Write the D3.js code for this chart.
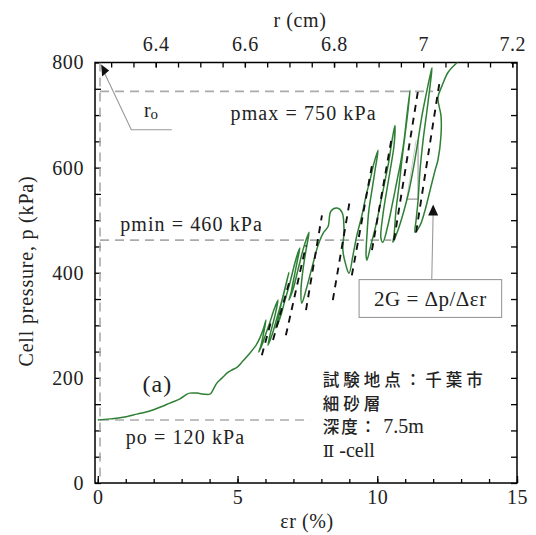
<!DOCTYPE html>
<html><head><meta charset="utf-8">
<script src="https://cdn.jsdelivr.net/npm/d3@7"></script>
<style>body{margin:0;background:#fff}svg{display:block}</style>
</head><body><svg id="c" width="536" height="535"></svg>
<script>
// ---- data ----
const strainPct = [0,0.43,0.9,1.4,1.86,2.22,2.58,2.94,3.19,3.29,3.55,3.8,4.01,4.08,4.15,4.26,4.37,4.51,4.62,4.8,4.98,5.19,5.44,5.66,5.8,
 5.91,6.02,5.94,5.84,5.76,5.87,6.02,6.16,6.30,6.45,
 6.34,6.16,6.09,6.23,6.41,6.59,6.70,6.84,
 6.73,6.55,6.45,6.37,6.52,6.70,6.87,7.02,7.13,7.23,
 7.13,6.98,6.91,6.84,6.98,7.16,7.34,7.45,7.56,
 7.45,7.34,7.27,7.30,7.45,7.66,7.88,8.06,8.24,
 8.34,8.56,8.74,8.81,8.77,8.88,8.99,
 9.13,9.27,9.45,9.60,9.74,9.88,10.03,
 9.92,9.81,9.70,9.63,9.60,9.63,9.77,9.95,10.10,10.28,10.42,10.53,10.63,
 10.60,10.49,10.31,10.20,10.13,10.20,10.38,10.53,10.71,10.85,10.96,11.06,11.17,
 11.10,10.99,10.88,10.78,10.67,10.60,10.56,10.74,10.96,11.14,11.31,11.46,11.60,11.74,11.89,11.96,
 11.89,11.78,11.64,11.53,11.46,11.39,11.35,11.53,11.71,11.89,12.07,12.17,12.28,12.28,12.17,12.32,12.53,12.82,12.96];
const pressureKPa = [120,122,125,131,137,144,152,160,169,171,171,169,169,173,180,190,196,203,209,215,220,232,247,262,276,
 291,310,287,262,249,262,285,306,329,348,
 319,281,262,281,314,348,371,401,
 376,338,310,295,314,348,380,412,433,447,
 420,380,361,348,367,405,443,462,477,
 443,405,367,342,367,409,452,475,488,
 517,523,515,481,443,414,399,
 433,471,509,547,576,608,633,
 595,557,519,471,433,424,452,490,528,576,614,652,680,
 642,604,547,509,466,458,490,528,576,614,652,699,747,
 709,661,614,566,519,471,458,481,519,557,604,652,699,737,775,790,
 756,709,652,595,538,500,477,490,519,557,595,614,661,699,733,756,781,798,804];
// dashed 2G slope lines: [strain1, p1] -> [strain2, p2]
const slopeStrain1 = [5.87,6.27,6.73,7.45,8.41,9.09,9.81,10.60,11.39];
const slopeP1      = [243,272,281,329,348,395,443,462,477];
const slopeStrain2 = [6.23,6.87,7.45,8.02,9.02,9.81,10.53,11.46,12.25];
const slopeP2      = [314,386,452,509,538,604,661,747,770];
// reference pressures
const refP = [745,462,120];
const refEndStrain = [12.0,10.5,7.6];
const refLabels = ["pmax = 750 kPa","pmin = 460 kPa","po = 120 kPa"];
const r0Strain = 0.08;
const xTicks = [0,5,10,15];
const yTicks = [0,200,400,600,800];
const rTicks = [6.4,6.6,6.8,7,7.2];
const r0cm = 6.27;
const infoCjk   = ["試験地点：千葉市","細砂層","深度：",""];
const infoLatin = ["","",""," 7.5m"," -cell"];

// ---- drawing ----
const svg = d3.select("#c");
const L=95, R=517, T=62.5, B=483;
const x = d3.scaleLinear().domain([-0.1,15]).range([L,R]);
const y = d3.scaleLinear().domain([0,800]).range([B,T]);
const xr = d3.scaleLinear().domain([r0cm*(1-0.001), r0cm*1.15]).range([L,R]);
const serif = "'Liberation Serif','Times New Roman',serif";
const cjk = "'Noto Sans CJK JP','Noto Sans CJK SC',sans-serif";
const ink = "#222";

svg.append("clipPath").attr("id","pc").append("rect")
  .attr("x",L).attr("y",T).attr("width",R-L).attr("height",B-T);

function styleAxis(g){ g.select(".domain").remove();
  g.selectAll("line").attr("stroke","#000").attr("stroke-width",1.3);
  g.selectAll("text").attr("font-family",serif).attr("font-size",20).attr("fill",ink).attr("letter-spacing",0.6); }

// bottom
svg.append("g").attr("transform",`translate(0,${B})`)
  .call(d3.axisBottom(x).tickValues(d3.range(0,16,1)).tickSize(-4).tickFormat("")).call(styleAxis);
svg.append("g").attr("transform",`translate(0,${B})`)
  .call(d3.axisBottom(x).tickValues(xTicks).tickSize(-7).tickPadding(7).tickFormat(d3.format("d"))).call(styleAxis);
// left
svg.append("g").attr("transform",`translate(${L},0)`)
  .call(d3.axisLeft(y).tickValues(d3.range(0,801,50)).tickSize(-6).tickPadding(11).tickFormat(d=>yTicks.includes(d)?d:"")).call(styleAxis);
// right
svg.append("g").attr("transform",`translate(${R},0)`)
  .call(d3.axisRight(y).tickValues(d3.range(0,801,50)).tickSize(-6).tickFormat("")).call(styleAxis);
// top (r in cm)
svg.append("g").attr("transform",`translate(0,${T})`)
  .call(d3.axisTop(xr).tickValues(d3.range(6.3,7.21,0.05)).tickSize(-5).tickFormat("")).call(styleAxis);
svg.append("g").attr("transform",`translate(0,${T})`)
  .call(d3.axisTop(xr).tickValues(rTicks).tickSize(-5).tickPadding(12).tickFormat(d=>d===7?"7":d3.format(".1f")(d))).call(styleAxis);

// frame
svg.append("rect").attr("x",L).attr("y",T).attr("width",R-L).attr("height",B-T)
  .attr("fill","none").attr("stroke","#000").attr("stroke-width",1.5);

const plot = svg.append("g").attr("clip-path","url(#pc)");
// reference dashed lines
plot.append("line").attr("x1",x(r0Strain)).attr("x2",x(r0Strain)).attr("y1",y(800)).attr("y2",y(0))
  .attr("stroke","#aaa").attr("stroke-width",1.6).attr("stroke-dasharray","9,6");
refP.forEach((p,i)=>{
  plot.append("line").attr("x1",x(r0Strain)).attr("x2",x(refEndStrain[i])).attr("y1",y(p)).attr("y2",y(p))
   .attr("stroke","#aaa").attr("stroke-width",1.6).attr("stroke-dasharray","9,6");
});
// slope triangle (2G)
const tri = [[11.46,652],[11.46,540],[11.05,540]];
plot.append("path").attr("d",d3.line().x(d=>x(d[0])).y(d=>y(d[1]))(tri))
  .attr("fill","none").attr("stroke","#999").attr("stroke-width",1.1);
plot.append("line").attr("x1",x(11.39)).attr("y1",y(652)).attr("x2",x(11.05)).attr("y2",y(540))
  .attr("stroke","#ccc").attr("stroke-width",1);

// green curve
const pts = strainPct.map((e,i)=>[e,pressureKPa[i]]);
plot.append("path").attr("d",d3.line().curve(d3.curveCatmullRom.alpha(0.5)).x(d=>x(d[0])).y(d=>y(d[1]))(pts))
  .attr("fill","none").attr("stroke","#2f7f35").attr("stroke-width",1.5).attr("stroke-linejoin","round");

// dashed slope lines
slopeStrain1.forEach((e,i)=>{
  plot.append("line").attr("x1",x(e)).attr("y1",y(slopeP1[i])).attr("x2",x(slopeStrain2[i])).attr("y2",y(slopeP2[i]))
   .attr("stroke","#111").attr("stroke-width",1.9).attr("stroke-dasharray","7,6");
});

// r0 annotation
const r0Pts = [[2.65,672],[1.2,672],[0.15,790]];
svg.append("path").attr("d",d3.line().x(d=>x(d[0])).y(d=>y(d[1]))(r0Pts))
  .attr("fill","none").attr("stroke","#999").attr("stroke-width",1.1);
{ const tx=x(0.12), ty=y(796);
  svg.append("path").attr("d",`M${tx},${ty} l1,12 l7,-6 z`).attr("fill","#111"); }
const r0t = svg.append("text").attr("x",x(1.65)).attr("y",y(697)).attr("font-family",serif).attr("font-size",20).attr("fill",ink);
r0t.append("tspan").text("r");
r0t.append("tspan").attr("dy",2).attr("font-size",15).text("o");

// labels for reference lines
const labPos = [[4.75,690],[0.8,480],[1.0,75]];
refLabels.forEach((t,i)=>{
  svg.append("text").attr("x",x(labPos[i][0])).attr("y",y(labPos[i][1])).attr("font-family",serif)
   .attr("font-size",20).attr("letter-spacing",1.1).attr("fill",ink).text(t);
});
svg.append("text").attr("x",x(1.6)).attr("y",y(174)).attr("font-family",serif).attr("font-size",24).attr("letter-spacing",1).attr("fill",ink).text("(a)");

// 2G box and arrow
const bx0=x(9.35), bx1=x(14.45), by0=y(387), by1=y(315);
svg.append("rect").attr("x",bx0).attr("y",by0).attr("width",bx1-bx0).attr("height",by1-by0)
  .attr("fill","#fff").attr("stroke","#999").attr("stroke-width",1.1);
svg.append("text").attr("x",(bx0+bx1)/2).attr("y",by1-11).attr("text-anchor","middle").attr("font-family",serif)
  .attr("font-size",21).attr("letter-spacing",0.5).attr("fill",ink).text("2G = Δp/Δεr");
const ax = x(12.0);
svg.append("line").attr("x1",x(11.95)).attr("y1",by0).attr("x2",ax).attr("y2",y(515)).attr("stroke","#999").attr("stroke-width",1.1);
svg.append("path").attr("d",`M${ax},${y(530)} l-5,11 l10,0 z`).attr("fill","#111");

// site info
const infoTop = 184, infoStep = 44.6;
for(let i=0;i<4;i++){
  const t = svg.append("text").attr("x",x(8.05)).attr("y",y(infoTop-i*infoStep)).attr("fill",ink);
  if(i<3) t.append("tspan").attr("font-family",cjk).attr("font-size",16.5).attr("font-weight",500)
           .attr("letter-spacing",i===2?2:4).text(infoCjk[i]);
  if(i===2) t.append("tspan").attr("font-family",serif).attr("font-size",20).text(infoLatin[3]);
  if(i===3){ t.append("tspan").attr("font-family","'DejaVu Serif',serif").attr("font-size",17).text("Ⅱ");
             t.append("tspan").attr("font-family",serif).attr("font-size",20).text(infoLatin[4]); }
}

// axis titles
svg.append("text").attr("x",(L+R)/2+1).attr("y",528).attr("text-anchor","middle").attr("font-family",serif)
  .attr("font-size",20).attr("letter-spacing",0.6).attr("fill",ink).text("εr (%)");
svg.append("text").attr("x",300).attr("y",27).attr("text-anchor","middle").attr("font-family",serif)
  .attr("font-size",20).attr("letter-spacing",0.6).attr("fill",ink).text("r (cm)");
svg.append("text").attr("transform","translate(33,271) rotate(-90)").attr("text-anchor","middle").attr("font-family",serif)
  .attr("font-size",20).attr("letter-spacing",0.8).attr("fill",ink).text("Cell pressure, p (kPa)");
</script></body></html>
